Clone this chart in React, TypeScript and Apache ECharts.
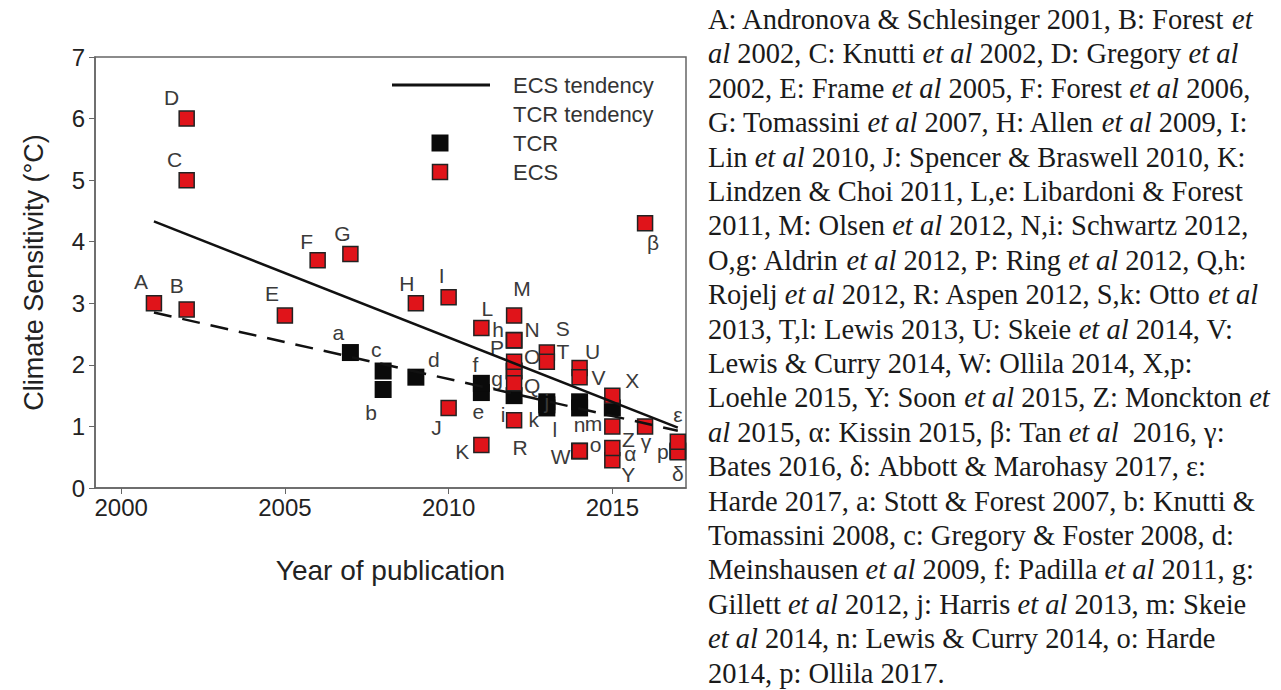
import React, { useEffect, useRef } from "react";
import * as echarts from "echarts";

// ---- data ----
const tickYears = [2000, 2005, 2010, 2015];

const ecsLabels = ["A","B","C","D","E","F","G","H","I","J","K","L","M","N","O","P","Q","R","S","T","U","V","W","X","Y","Z","α","β","γ","δ","ε"];
const ecsYears = [2001,2002,2002,2002,2005,2006,2007,2009,2010,2010,2011,2011,2012,2012,2012,2012,2012,2012,2013,2013,2014,2014,2014,2015,2015,2015,2015,2016,2016,2017,2017];
const ecsValues = [3.0,2.9,5.0,6.0,2.8,3.7,3.8,3.0,3.1,1.3,0.7,2.6,2.8,2.4,1.9,2.05,1.7,1.1,2.2,2.05,1.95,1.8,0.6,1.5,0.45,1.0,0.65,4.3,1.0,0.58,0.75];
const ecsLabelOffsets = [[-13,-22],[-10,-24],[-12,-21],[-15,-21],[-13,-22],[-11,-19],[-8,-21],[-9,-20],[-7,-22],[-12,20],[-19,7],[6,-19],[8,-27],[18,-11],[18,-15],[-17,-14],[18,2],[6,27],[16,-24],[16,-10],[13,-16],[19,0],[-19,5],[20,-15],[16,14],[16,13],[18,6],[8,19],[1,15],[0,21],[0,-27]];

const tcrLabels = ["a","b","c","d","e","f","g","h","i","j","k","l","m","n","o","p",""];
const tcrYears = [2007,2008,2008,2009,2011,2011,2012,2012,2012,2013,2013,2013,2014,2014,2014,2017,2015];
const tcrValues = [2.2,1.6,1.9,1.8,1.55,1.7,1.9,2.4,1.5,1.4,1.3,1.35,1.4,1.3,0.6,0.6,1.3];
const tcrLabelOffsets = [[-12,-20],[-12,23],[-7,-22],[18,-18],[-3,19],[-6,-19],[-17,7],[-16,-11],[-11,19],[0,0],[-13,12],[8,25],[14,22],[0,17],[16,-7],[-15,0],[0,0]];

const ecsTrendYears = [2001, 2017];
const ecsTrendValues = [4.33, 0.98];
const tcrTrendYears = [2001, 2017];
const tcrTrendValues = [2.85, 0.93];

const referenceLines = [
  "A: Andronova & Schlesinger 2001, B: Forest {i|et}",
  "{i|al} 2002, C: Knutti {i|et al} 2002, D: Gregory {i|et al}",
  "2002, E: Frame {i|et al} 2005, F: Forest {i|et al} 2006,",
  "G: Tomassini {i|et al} 2007, H: Allen {i|et al} 2009, I:",
  "Lin {i|et al} 2010, J: Spencer & Braswell 2010, K:",
  "Lindzen & Choi 2011, L,e: Libardoni & Forest",
  "2011, M: Olsen {i|et al} 2012, N,i: Schwartz 2012,",
  "O,g: Aldrin {i|et al} 2012, P: Ring {i|et al} 2012, Q,h:",
  "Rojelj {i|et al} 2012, R: Aspen 2012, S,k: Otto {i|et al}",
  "2013, T,l: Lewis 2013, U: Skeie {i|et al} 2014, V:",
  "Lewis & Curry 2014, W: Ollila 2014, X,p:",
  "Loehle 2015, Y: Soon {i|et al} 2015, Z: Monckton {i|et}",
  "{i|al} 2015, α: Kissin 2015, β: Tan {i|et al}  2016, γ:",
  "Bates 2016, δ: Abbott & Marohasy 2017, ε:",
  "Harde 2017, a: Stott & Forest 2007, b: Knutti &",
  "Tomassini 2008, c: Gregory & Foster 2008, d:",
  "Meinshausen {i|et al} 2009, f: Padilla {i|et al} 2011, g:",
  "Gillett {i|et al} 2012, j: Harris {i|et al} 2013, m: Skeie",
  "{i|et al} 2014, n: Lewis & Curry 2014, o: Harde",
  "2014, p: Ollila 2017.",
];

const SANS = "'Liberation Sans', Arial, sans-serif";
const SERIF = "'Liberation Serif', 'Times New Roman', serif";

function pointData(years: number[], values: number[], labels: string[], offsets: number[][]) {
  return years.map((y, i) => ({
    value: [y, values[i]],
    label: {
      show: labels[i] !== "",
      formatter: labels[i],
      position: "inside",
      offset: offsets[i],
      fontSize: 21,
      fontFamily: SANS,
      color: "#3a3a3a",
    },
  }));
}

export default function App() {
  const ref = useRef<HTMLDivElement>(null);
  useEffect(() => {
    if (!ref.current) return;
    const chart = echarts.init(ref.current, null, { renderer: "svg" });

    const textGraphics = referenceLines.map((line, i) => ({
      type: "text",
      left: 708,
      top: 5 + i * 34.4,
      style: {
        text: line,
        fontSize: 28.5,
        fontFamily: SERIF,
        fill: "#1a1a1a",
        rich: {
          i: { fontStyle: "italic", fontSize: 28.5, fontFamily: SERIF, fill: "#1a1a1a" },
        },
      },
    }));

    const legendGraphics = [
      { type: "line", shape: { x1: 392, y1: 85, x2: 490, y2: 85 }, style: { stroke: "#111", lineWidth: 3 } },
      { type: "text", x: 513, y: 85, style: { text: "ECS tendency", fontSize: 22, fontFamily: SANS, fill: "#333", verticalAlign: "middle" } },
      { type: "text", x: 513, y: 114, style: { text: "TCR tendency", fontSize: 22, fontFamily: SANS, fill: "#333", verticalAlign: "middle" } },
      { type: "rect", shape: { x: 431.5, y: 134.5, width: 17, height: 17 }, style: { fill: "#0a0a0a" } },
      { type: "text", x: 513, y: 143, style: { text: "TCR", fontSize: 22, fontFamily: SANS, fill: "#333", verticalAlign: "middle" } },
      { type: "rect", shape: { x: 432.5, y: 164.5, width: 15, height: 15 }, style: { fill: "#e0141a", stroke: "#222", lineWidth: 1.5 } },
      { type: "text", x: 513, y: 172, style: { text: "ECS", fontSize: 22, fontFamily: SANS, fill: "#333", verticalAlign: "middle" } },
    ];

    chart.setOption({
      animation: false,
      backgroundColor: "#ffffff",
      grid: {
        left: 95,
        top: 57,
        width: 591,
        height: 431,
        show: true,
        borderColor: "#666",
        borderWidth: 1.5,
      },
      xAxis: {
        type: "value",
        min: 1999.2,
        max: 2017.25,
        name: "Year of publication",
        nameLocation: "middle",
        nameGap: 68,
        nameTextStyle: { fontSize: 28, color: "#222", fontFamily: SANS },
        axisLine: { show: true, lineStyle: { color: "#666", width: 1.5 } },
        axisTick: { show: true, customValues: tickYears, length: 6, lineStyle: { color: "#666" } },
        axisLabel: {
          customValues: tickYears,
          formatter: (v: number) => String(Math.round(v)),
          fontSize: 24,
          color: "#222",
          fontFamily: SANS,
          margin: 7,
        },
        splitLine: { show: false },
      },
      yAxis: {
        type: "value",
        min: 0,
        max: 7,
        interval: 1,
        name: "Climate Sensitivity (°C)",
        nameLocation: "middle",
        nameGap: 48,
        nameTextStyle: { fontSize: 27, color: "#222", fontFamily: SANS },
        axisLine: { show: true, lineStyle: { color: "#666", width: 1.5 } },
        axisTick: { show: true, length: 6, lineStyle: { color: "#666" } },
        axisLabel: { fontSize: 24, color: "#222", fontFamily: SANS, margin: 10 },
        splitLine: { show: false },
      },
      series: [
        {
          name: "TCR",
          type: "scatter",
          symbol: "rect",
          symbolSize: 17,
          itemStyle: { color: "#0a0a0a", opacity: 1 },
          z: 2,
          data: pointData(tcrYears, tcrValues, tcrLabels, tcrLabelOffsets),
        },
        {
          name: "ECS",
          type: "scatter",
          symbol: "rect",
          symbolSize: 15,
          itemStyle: { color: "#e0141a", borderColor: "#222", borderWidth: 1.5, opacity: 1 },
          z: 3,
          data: pointData(ecsYears, ecsValues, ecsLabels, ecsLabelOffsets),
        },
        {
          name: "ECS tendency",
          type: "line",
          symbol: "none",
          z: 4,
          lineStyle: { color: "#111", width: 2.5 },
          data: ecsTrendYears.map((y, i) => [y, ecsTrendValues[i]]),
        },
        {
          name: "TCR tendency",
          type: "line",
          symbol: "none",
          z: 4,
          lineStyle: { color: "#111", width: 2.5, type: [18, 11] },
          data: tcrTrendYears.map((y, i) => [y, tcrTrendValues[i]]),
        },
      ],
      graphic: [...legendGraphics, ...textGraphics],
    });

    return () => chart.dispose();
  }, []);

  return (
    <div
      ref={ref}
      style={{ position: "fixed", left: 0, top: 0, width: 1281, height: 690, background: "#fff" }}
    />
  );
}
